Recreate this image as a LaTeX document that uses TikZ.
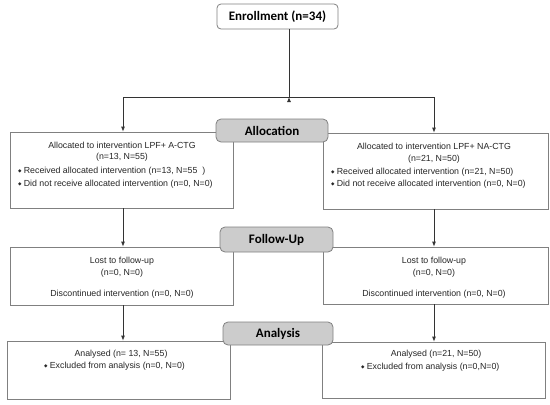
\documentclass[tikz,border=0pt]{standalone}
\usepackage{fontspec}
\setmainfont{Liberation Sans}
\newfontfamily\carl{Carlito}
\newfontfamily\dvs{DejaVu Sans}
\usetikzlibrary{arrows.meta}
\newcommand\dia{{\dvs\fontsize{4.5}{5}\selectfont\raisebox{0.6pt}{◆}}\hspace{2.2pt}}
\begin{document}
\begin{tikzpicture}[x=1pt,y=-1pt,
 box/.style={draw=black!50, line width=0.8pt, fill=white, inner sep=0pt},
 stage/.style={draw=black!50, line width=0.8pt, fill=black!20, rounded corners=5pt, inner sep=0pt, font=\carl\bfseries\fontsize{13}{15}\selectfont},
 txt/.style={font=\fontsize{8.8}{10}\selectfont, inner sep=0pt, anchor=base, text=black!85},
 txtl/.style={txt, anchor=base west},
 conn/.style={line width=0.8pt, draw=black!80},
 arr/.style={conn, -{Latex[length=5pt,width=4pt]}}
]
\useasboundingbox (0,0) rectangle (550,405);
% boxes
\node[box, rounded corners=4pt, minimum width=121pt, minimum height=25pt, font=\carl\bfseries\fontsize{13}{15}\selectfont] (en) at (277.5,16.5) {Enrollment (n=34)};
\node[box, minimum width=223pt, minimum height=76pt] (a1) at (121.5,170) {};
\node[box, minimum width=225pt, minimum height=76pt] (a2) at (435.5,171) {};
\node[box, minimum width=223pt, minimum height=58pt] (f1) at (121.5,276) {};
\node[box, minimum width=225pt, minimum height=57pt] (f2) at (435.5,275.5) {};
\node[box, minimum width=223pt, minimum height=58pt] (n1) at (118.5,370) {};
\node[box, minimum width=223pt, minimum height=56pt] (n2) at (433.5,370) {};
% stage labels
\node[stage, minimum width=112pt, minimum height=23pt] (sa) at (272,130.5) {Allocation};
\node[stage, minimum width=113pt, minimum height=25pt] (sf) at (276.5,239.5) {Follow-Up};
\node[stage, minimum width=110pt, minimum height=23pt] (sn) at (278,333.5) {Analysis};
% connectors
\coordinate (jm) at (289,97);
\coordinate (jl) at (123,97);
\coordinate (jr) at (434,97);
\draw[conn] (en.south -| jm) -- (jm);
\draw[conn] (jl) -- (jr);
\draw[arr] (jm) -- (jm |- jl);
\draw[arr] (jl) -- (jl |- a1.north);
\draw[arr] (jr) -- (jr |- a2.north);
\draw[arr] (jl |- a1.south) -- (jl |- f1.north);
\draw[arr] (jr |- a2.south) -- (jr |- f2.north);
\draw[arr] (jl |- f1.south) -- (jl |- n1.north);
\draw[arr] (jr |- f2.south) -- (jr |- n2.north);
% allocation texts
\node[txt] (a1t1) at (122,148) {Allocated to intervention LPF+ A-CTG};
\node[txt] (a1t2) at (122,159) {(n=13, N=55)};
\node[txtl] (a1t3) at (18,173) {\dia Received allocated intervention (n=13, N=55\ \ )};
\node[txtl] (a1t4) at (18,186) {\dia Did not receive allocated intervention (n=0, N=0)};
\node[txt] (a2t1) at (434,149) {Allocated to intervention LPF+ NA-CTG};
\node[txt] (a2t2) at (434,161) {(n=21, N=50)};
\node[txtl] (a2t3) at (331,174) {\dia Received allocated intervention (n=21, N=50)};
\node[txtl] (a2t4) at (331,186) {\dia Did not receive allocated intervention (n=0, N=0)};
% follow-up texts
\node[txt] (f1t1) at (122,263) {Lost to follow-up};
\node[txt] (f1t2) at (122,275) {(n=0, N=0)};
\node[txt] (f1t3) at (122,296) {Discontinued intervention (n=0, N=0)};
\node[txt] (f2t1) at (434,263) {Lost to follow-up};
\node[txt] (f2t2) at (434,275) {(n=0, N=0)};
\node[txt] (f2t3) at (434,296) {Discontinued intervention (n=0, N=0)};
% analysis texts
\node[txt] (n1t1) at (121,356) {Analysed (n= 13, N=55)};
\node[txtl] (n1t2) at (44,368) {\dia Excluded from analysis (n=0, N=0)};
\node[txt] (n2t1) at (436,356) {Analysed (n=21, N=50)};
\node[txtl] (n2t2) at (361,369) {\dia Excluded from analysis (n=0,N=0)};
\end{tikzpicture}
\end{document}
